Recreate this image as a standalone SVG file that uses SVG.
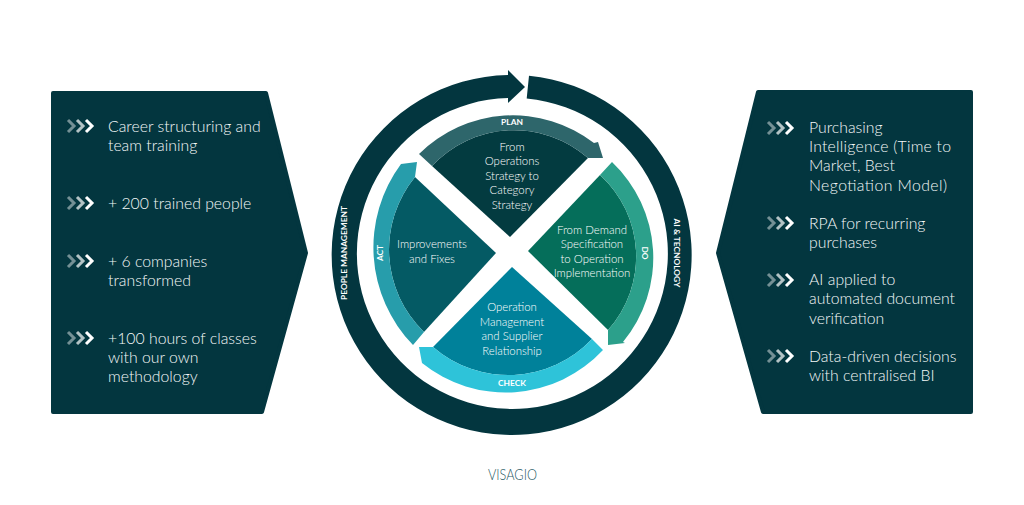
<svg xmlns="http://www.w3.org/2000/svg" width="1024" height="505" viewBox="0 0 1024 505">
<style>
text{font-family:"Lato","Liberation Sans",sans-serif}
.b{font-size:15.800px;fill:#f4f8f8;font-weight:300}
.c{font-size:11.400px;fill:#fff;font-weight:300;text-anchor:middle}
.l{font-size:8.400px;font-weight:700;fill:#fff;text-anchor:middle}
.ch{fill:none;stroke:#fff;stroke-width:3}
.panel{fill:#03363f;stroke:#03363f;stroke-width:4;stroke-linejoin:round}
</style>
<defs>
<g id="chev"><path class="ch" opacity=".45" d="M68,-6 L74,0 L68,6"/><path class="ch" opacity=".7" d="M77,-6 L83,0 L77,6"/><path class="ch" d="M86,-6 L92,0 L86,6"/></g>
</defs>
<rect width="1024" height="505" fill="#fff"/>
<g id="left-panel">
<path class="panel" d="M53,93 H266 L306,253 L262,412 H53 Z"/>
<use href="#chev" y="126"/><use href="#chev" y="203"/><use href="#chev" y="261"/><use href="#chev" y="338"/>
<text class="b" x="108" y="132">Career structuring and</text><text class="b" x="108" y="151">team training</text>
<text class="b" x="108" y="209">+ 200 trained people</text>
<text class="b" x="108" y="267">+ 6 companies</text><text class="b" x="108" y="286">transformed</text>
<text class="b" x="108" y="344">+100 hours of classes</text><text class="b" x="108" y="363">with our own</text><text class="b" x="108" y="382">methodology</text>
</g>
<g id="right-panel">
<path class="panel" d="M971,92 H758 L718,253 L763,412 H971 Z"/>
<use href="#chev" x="700" y="128"/><use href="#chev" x="700" y="223"/><use href="#chev" x="700" y="280"/><use href="#chev" x="700" y="356"/>
<text class="b" x="809" y="133">Purchasing</text><text class="b" x="809" y="152" textLength="142">Intelligence (Time to</text><text class="b" x="809" y="171">Market, Best</text><text class="b" x="809" y="191" textLength="138">Negotiation Model)</text>
<text class="b" x="809" y="229">RPA for recurring</text><text class="b" x="809" y="248">purchases</text>
<text class="b" x="809" y="285">AI applied to</text><text class="b" x="809" y="304">automated document</text><text class="b" x="809" y="324">verification</text>
<text class="b" x="809" y="362">Data-driven decisions</text><text class="b" x="809" y="381">with centralised BI</text>
</g>
<g id="outer-ring">
<path fill="#03363f" d="M529,75.800 A180,180 0 1 1 508,75 V70 L525,87 L508,103 V98 A155.500,155.500 0 1 0 526.700,98.600 Z"/>
<text class="l" transform="translate(347,253) rotate(-90)">PEOPLE MANAGEMENT</text>
<text class="l" transform="translate(674,253) rotate(90)">AI &amp; TECNOLOGY</text>
</g>
<g id="plan">
<path fill="#033b40" d="M510,237 L432,166 A112,112 0 0 1 588,158 Z"/>
<path fill="#2e666b" d="M419,154 A133,133 0 0 1 594,143 L598,142 L603,158 L588,158 A112,112 0 0 0 432,166 Z"/>
<text class="l" x="512" y="125">PLAN</text>
<text class="c" x="512" y="151">From</text><text class="c" x="512" y="165">Operations</text><text class="c" x="512" y="180">Strategy to</text><text class="c" x="512" y="194">Category</text><text class="c" x="512" y="209">Strategy</text>
</g>
<g id="do">
<path fill="#056e5a" d="M528,251 L600,175 A110,110 0 0 1 608,330 Z"/>
<path fill="#2ca08b" d="M612,162 A132,132 0 0 1 623,342 L625,343 L608,345 L608,330 A110,110 0 0 0 600,175 Z"/>
<text class="l" transform="translate(642,253) rotate(90)">DO</text>
<text class="c" x="592" y="234">From Demand</text><text class="c" x="592" y="248">Specification</text><text class="c" x="592" y="263">to Operation</text><text class="c" x="592" y="277">Implementation</text>
</g>
<g id="check">
<path fill="#00819a" d="M512,267 L592,339 A115,115 0 0 1 433,347 Z"/>
<path fill="#2ec3d9" d="M603,350 A133,133 0 0 1 422,363 L419,347 L433,347 A115,115 0 0 0 592,339 Z"/>
<text class="l" x="512" y="386">CHECK</text>
<text class="c" x="512" y="311">Operation</text><text class="c" x="512" y="326">Management</text><text class="c" x="512" y="340">and Supplier</text><text class="c" x="512" y="355">Relationship</text>
</g>
<g id="act">
<path fill="#045a64" d="M496,253 L415,177 A114.500,114.500 0 0 0 424,332 Z"/>
<path fill="#279dab" d="M413,345 A140,140 0 0 1 401,164 L417,162 L415,177 A114.500,114.500 0 0 0 424,332 Z"/>
<text class="l" transform="translate(383,253) rotate(-90)">ACT</text>
<text class="c" x="432" y="248">Improvements</text><text class="c" x="432" y="263">and Fixes</text>
</g>
<g id="logo"><text x="512.500" y="479.500" font-size="15.500" font-weight="300" fill="#1f5a64" text-anchor="middle" textLength="49" lengthAdjust="spacingAndGlyphs">VISAGIO</text></g>
</svg>
